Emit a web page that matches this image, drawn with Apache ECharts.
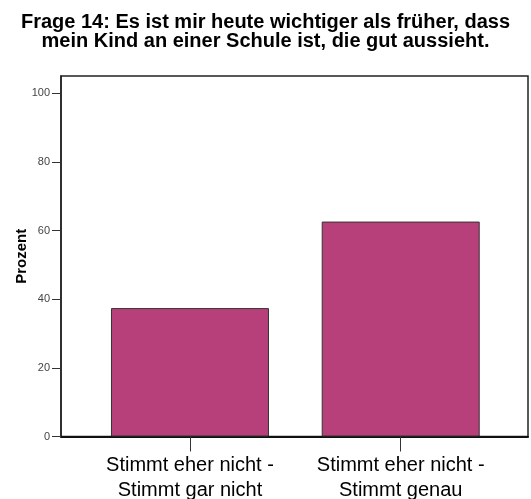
<!DOCTYPE html>
<html>
<head>
<meta charset="utf-8">
<script src="https://cdn.jsdelivr.net/npm/echarts@6/dist/echarts.min.js"></script>
<style>html,body{margin:0;padding:0;background:#fff;}#c{width:531px;height:499px;}</style>
</head>
<body>
<div id="c"></div>
<script>
var categories = ['Stimmt eher nicht -\nStimmt gar nicht', 'Stimmt eher nicht -\nStimmt genau'];
var values = [37.4, 62.6];
var yTicks = [0, 20, 40, 60, 80, 100];

var chart = echarts.init(document.getElementById('c'), null, {renderer: 'canvas'});
var data = values.map(function (v, i) { return [i, v]; });
chart.setOption({
  backgroundColor: '#ffffff',
  animation: false,
  title: {
    text: 'Frage 14: Es ist mir heute wichtiger als früher, dass\nmein Kind an einer Schule ist, die gut aussieht.',
    left: 'center',
    top: 8,
    textStyle: {fontFamily: 'Liberation Sans, Arial', fontSize: 20, fontWeight: 'bold', color: '#000', lineHeight: 19}
  },
  grid: {left: 61, top: 76, right: 3, bottom: 62.5, outerBoundsMode: 'none', containLabel: false,
         show: true, borderColor: '#222', borderWidth: 1.5, backgroundColor: 'transparent'},
  xAxis: {
    type: 'value',
    min: -0.612,
    max: 1.604,
    splitLine: {show: false},
    axisLine: {show: true, onZero: false, lineStyle: {color: '#111', width: 2}},
    axisTick: {show: true, length: 15, customValues: [0, 1], lineStyle: {color: '#333', width: 1}},
    axisLabel: {
      customValues: [0, 1],
      formatter: function (v) { return categories[Math.round(v)]; },
      fontFamily: 'Liberation Sans, Arial', fontSize: 20, color: '#000', lineHeight: 25, margin: 16
    }
  },
  yAxis: {
    type: 'value',
    min: 0,
    max: 105,
    name: 'Prozent',
    nameLocation: 'middle',
    nameGap: 32,
    nameMoveOverlap: false,
    nameTextStyle: {fontFamily: 'Liberation Sans, Arial', fontSize: 15, fontWeight: 'bold', color: '#000'},
    splitLine: {show: false},
    axisLine: {show: true, onZero: false, lineStyle: {color: '#222', width: 1.5}},
    axisTick: {show: true, length: 9, customValues: yTicks, lineStyle: {color: '#333', width: 1}},
    axisLabel: {customValues: yTicks, fontFamily: 'Liberation Sans, Arial', fontSize: 11, color: '#444', margin: 11}
  },
  series: [{
    type: 'bar',
    data: data,
    barWidth: 158,
    itemStyle: {color: '#B8407A', borderColor: '#333', borderWidth: 1}
  }]
});
</script>
</body>
</html>
